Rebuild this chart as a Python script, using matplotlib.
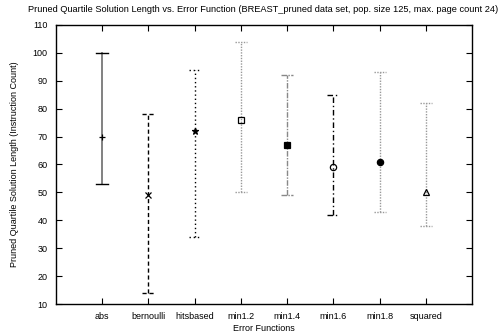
import matplotlib
matplotlib.use("Agg")
import matplotlib.pyplot as plt

plt.rcParams["font.family"] = ["Liberation Sans", "DejaVu Sans"]

categories = ["abs", "bernoulli", "hitsbased", "min1.2", "min1.4", "min1.6", "min1.8", "squared"]
lows = [53, 14, 34, 50, 49, 42, 43, 38]
highs = [100, 78, 94, 104, 92, 85, 93, 82]
medians = [70, 49, 72, 76, 67, 59, 61, 50]

colors = ["#777777", "black", "black", "#999999", "#888888", "black", "#999999", "#999999"]
lstyles = ["-", (0, (3, 2)), (0, (1, 2)), (0, (1, 1)), (0, (4, 1, 1, 1)), (0, (4, 2, 1, 2)), (0, (1, 1)), (0, (1, 1))]
markers = ["+", "x", "*", "s", "s", "o", "o", "^"]
filled = [True, True, True, False, True, False, True, False]

fig = plt.figure(figsize=(4.99, 3.36), dpi=100)
ax = fig.add_axes([56/499, 1-304/336, (472-56)/499, (304-25)/336])

for i, c in enumerate(categories):
    x = i + 1
    ax.plot([x, x], [lows[i], highs[i]], color=colors[i], linestyle=lstyles[i], lw=1.3 if i == 0 else 1.0)
    for v in (lows[i], highs[i]):
        ax.plot([x - 0.13, x + 0.13], [v, v], color=colors[i] if i else "black", linestyle=lstyles[i], lw=1.0)
    mfc = "black" if filled[i] else "none"
    ms = {"+": 5, "x": 4, "*": 5, "s": 4.5, "o": 4.5, "^": 4.5}[markers[i]]
    ax.plot([x], [medians[i]], marker=markers[i], color="black", mfc=mfc, mec="black", ms=ms, mew=0.9, linestyle="none")

ax.set_xlim(0, 9)
ax.set_ylim(10, 110)
ax.set_xticks(range(1, 9))
ax.set_xticklabels(categories)
ax.set_yticks(range(10, 111, 10))
ax.tick_params(direction="in", top=True, right=True, labelsize=6.5, length=4, width=0.8, pad=6)
for s in ax.spines.values():
    s.set_linewidth(1.0)
ax.set_xlabel("Error Functions", fontsize=6.5, labelpad=2)
ax.set_ylabel("Pruned Quartile Solution Length (Instruction Count)", fontsize=6.5, labelpad=10)
fig.text(263/499, 1-9/336, "Pruned Quartile Solution Length vs. Error Function (BREAST_pruned data set, pop. size 125, max. page count 24)",
         ha="center", va="center", fontsize=6.7)
fig.savefig("out.png", dpi=100)
